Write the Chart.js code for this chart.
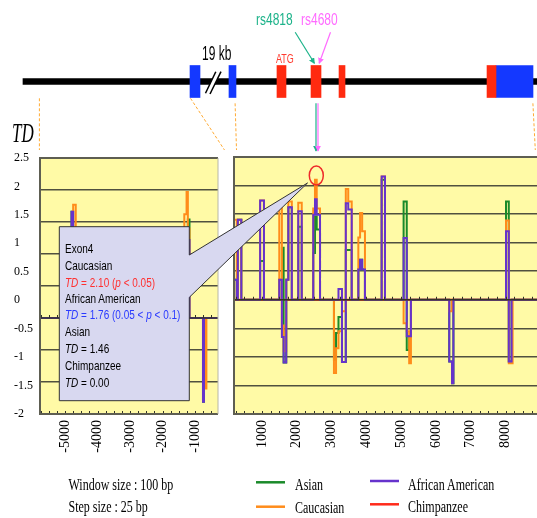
<!DOCTYPE html>
<html>
<head>
<meta charset="utf-8">
<script src="https://cdn.jsdelivr.net/npm/chart.js@4.4.1/dist/chart.umd.min.js"></script>
<style>
  body { margin: 0; background: #fff; }
  #wrap { position: relative; width: 537px; height: 518px; overflow: hidden; background: #fff; }
  canvas, svg, .lbl { position: absolute; }
  .lbl { white-space: nowrap; transform-origin: 0 0; line-height: 1; color: #000; }
  .sans { font-family: "Liberation Sans", Arial, sans-serif; }
  .serif { font-family: "Liberation Serif", "Times New Roman", serif; }
</style>
</head>
<body>
<div id="wrap">
  <canvas id="geneChart" width="537" height="110" style="left:0;top:0"></canvas>
  <canvas id="leftChart" width="222" height="310" style="left:0;top:150px"></canvas>
  <canvas id="rightChart" width="307" height="310" style="left:230px;top:150px"></canvas>

  <svg width="537" height="518" style="left:0;top:0" xmlns="http://www.w3.org/2000/svg">
    <defs>
      <marker id="ahT" viewBox="0 0 8 8" refX="7" refY="4" markerWidth="5" markerHeight="5" orient="auto"><path d="M0,0 L8,4 L0,8 z" fill="#1db38a"/></marker>
      <marker id="ahM" viewBox="0 0 8 8" refX="7" refY="4" markerWidth="5" markerHeight="5" orient="auto"><path d="M0,0 L8,4 L0,8 z" fill="#ff6bff"/></marker>
    </defs>
    <!-- break in the gene line -->
    <polygon points="205.5,93.3 215.8,71.7 221,71.7 210,94" fill="#fff"/>
    <line x1="205.5" y1="93.3" x2="215.8" y2="71.7" stroke="#000" stroke-width="1.5"/>
    <line x1="210" y1="94" x2="221" y2="71.7" stroke="#000" stroke-width="1.5"/>
    <!-- SNP arrows -->
    <line x1="295.2" y1="32.3" x2="314.4" y2="63.3" stroke="#1db38a" stroke-width="1.2" marker-end="url(#ahT)"/>
    <line x1="330.5" y1="32.3" x2="319.2" y2="63.3" stroke="#ff6bff" stroke-width="1.2" marker-end="url(#ahM)"/>
    <line x1="316" y1="103.3" x2="316" y2="151" stroke="#1db38a" stroke-width="1.2" marker-end="url(#ahT)"/>
    <line x1="318" y1="103.3" x2="318" y2="151" stroke="#ff6bff" stroke-width="1.2" marker-end="url(#ahM)"/>
    <!-- zoom guides -->
    <g stroke="#ffaa33" stroke-width="1" stroke-dasharray="3,2" fill="none">
      <line x1="39.4" y1="98.3" x2="39.4" y2="150"/>
      <line x1="190.5" y1="98.3" x2="224.5" y2="150"/>
      <line x1="235.1" y1="103.3" x2="236.5" y2="150"/>
      <line x1="532.9" y1="103.3" x2="535.3" y2="150"/>
    </g>
    <!-- callout -->
    <path d="M59.3,226.7 H189.3 V255 L307.5,183 L189.3,297.3 V400.7 H59.3 Z" fill="#d8d8f0" stroke="#333" stroke-width="1"/>
    <ellipse cx="316.3" cy="175.5" rx="7" ry="9.5" fill="none" stroke="#ee2a2a" stroke-width="1.5"/>
    <!-- legend swatches -->
    <line x1="256" y1="482.3" x2="285" y2="482.3" stroke="#1a8a2a" stroke-width="2.5"/>
    <line x1="256" y1="506.7" x2="285" y2="506.7" stroke="#ff8c1a" stroke-width="2.5"/>
    <line x1="370" y1="481" x2="399" y2="481" stroke="#6633cc" stroke-width="2.5"/>
    <line x1="370" y1="504.3" x2="399" y2="504.3" stroke="#ff2a1a" stroke-width="2.5"/>
  </svg>

  <div class="lbl sans" style="left:256px;top:11.2px;font-size:12px;color:#1db38a;transform:scaleY(1.36)">rs4818</div>
  <div class="lbl sans" style="left:301px;top:11.2px;font-size:12px;color:#ff6bff;transform:scaleY(1.36)">rs4680</div>
  <div class="lbl sans" style="left:202px;top:44.4px;font-size:12px;transform:scaleY(1.63)">19 kb</div>
  <div class="lbl sans" style="left:276px;top:53.3px;font-size:9px;color:#ff3b2f;transform:scaleY(1.4)">ATG</div>
  <div class="lbl serif" style="left:12px;top:119px;font-size:17px;font-style:italic;transform:scaleY(1.66)">TD</div>

  <div class="lbl sans" style="left:65px;top:241.1px;font-size:10px;line-height:12.85px;transform:scaleY(1.3)">
    Exon4<br>
    Caucasian<br>
    <span style="color:#ff3030"><i>TD</i> = 2.10 (<i>p</i> &lt; 0.05)</span><br>
    African American<br>
    <span style="color:#2a3aff"><i>TD</i> = 1.76 (0.05 &lt; <i>p</i> &lt; 0.1)</span><br>
    Asian<br>
    <i>TD</i> = 1.46<br>
    Chimpanzee<br>
    <i>TD</i> = 0.00
  </div>

  <div class="lbl serif" style="left:68.5px;top:475.4px;font-size:12px;transform:scaleY(1.45)">Window size : 100 bp</div>
  <div class="lbl serif" style="left:68.5px;top:497.1px;font-size:12px;transform:scaleY(1.45)">Step size : 25 bp</div>
  <div class="lbl serif" style="left:295px;top:475.4px;font-size:12px;transform:scaleY(1.45)">Asian</div>
  <div class="lbl serif" style="left:295px;top:498.4px;font-size:12px;transform:scaleY(1.45)">Caucasian</div>
  <div class="lbl serif" style="left:408px;top:475.4px;font-size:12px;transform:scaleY(1.45)">African American</div>
  <div class="lbl serif" style="left:408px;top:497.1px;font-size:12px;transform:scaleY(1.45)">Chimpanzee</div>
</div>

<script>
// gene map (map position, bp; the 5' part left of the break is compressed)
const mapMin = -6518;
const mapMax = 8899;
const backbone = [-5858, 8899];
const exonStart = [-1063, 56, 1434, 2411, 3215, 7464, 7722];
const exonEnd = [-776, 257, 1693, 2698, 3387, 7722, 8784];
const exonKind = ["utr", "utr", "cds", "cds", "cds", "cds", "utr"];

// axis labels
const leftTickLabels = [-5000, -4000, -3000, -2000, -1000];
const rightTickLabels = [1000, 2000, 3000, 4000, 5000, 6000, 7000, 8000];
const minorStep = 250;

// upstream region (left panel), window start positions and TD
const leftPos = [-5770, -4800, -4750, -4670, -1330, -1260, -1220, -1170, -755, -725, -680, -650, -293];
const leftAsian = [0, 1.66, 0.60, 0, 1.20, 1.20, 1.54, 0, -1.31, 0, 0, 0, 0];
const leftCauc = [0, 0.60, 1.77, 0, 1.62, 1.97, 1.40, 0, 0, 0, -1.10, 0, 0];
const leftAfam = [0, 1.66, 0.60, 0, 1.20, 1.20, 1.22, 0, -1.31, 0, 0, 0, 0];
const leftChimp = [0, 0, 0, 0, 0, 0, 0, 0, 0, 0, 0, 0, 0];

// gene region (right panel)
const rightPos = [200, 280, 310, 410, 950, 1060, 1500, 1575, 1625, 1700, 1760, 1860, 2045, 2145,
  2475, 2525, 2575, 2670, 3070, 3130, 3200, 3300, 3410, 3480, 3580, 3770, 3820, 3880, 3960,
  4440, 4535, 5070, 5160, 5230, 5280, 6380, 6460, 6500, 8010, 8090, 8170, 8200, 8900];
const rightAsian = [0.35, 0, 1.40, 0, 0.68, 0, 0.35, 0.91, -1.10, 0.35, 1.62, 0, 1.28, 0,
  0.82, 1.46, 1.23, 0, -1.05, -0.58, -0.30, -1.09, 0.87, 0.87, 0, 0.53, 0.70, 0.53, 0,
  2.10, 0, 1.72, -0.88, -0.64, 0, -1.08, -1.46, 0, 1.72, -1.08, 0, 0, 0];
const rightCauc = [1.40, 0, 1.40, 0, 1.74, 0, 1.62, -0.45, -0.90, 0.35, 1.72, 0, 1.70, 0,
  1.60, 2.10, 1.60, 0, -1.28, -0.85, -0.55, -0.20, 1.94, 1.72, 0, 1.09, 1.52, 1.20, 0,
  2.16, 0, -0.41, -0.55, -1.11, 0, -0.20, 0, 0, 1.39, -1.11, -1.11, 0, 0];
const rightAfam = [0.35, 0, 1.40, 0, 1.74, 0, 0.35, -0.65, -1.10, 0.35, 1.62, 0, 1.55, 0,
  1.49, 1.76, 1.49, 0, 0, 0, 0.19, -1.09, 1.69, 1.58, 0, 0.53, 0.70, 0.53, 0,
  2.16, 0, 1.08, -0.64, -0.64, 0, -1.08, -1.46, 0, 1.20, -1.08, 0, 0, 0];
const rightChimp = rightPos.map(() => 0);

const COLORS = { asian: "#1a8a2a", cauc: "#ff8c1a", afam: "#6633cc", chimp: "#ff2a1a" };
const EXON_COLORS = { utr: "#1438ff", cds: "#ff2a10" };
const PANEL_BG = "#fffaa6";
const GRID = "#50503f";
const serif = "'Liberation Serif', 'Times New Roman', serif";

const panelPlugin = {
  id: "panel",
  beforeDraw(chart) {
    const { ctx, chartArea: a } = chart;
    ctx.save();
    ctx.fillStyle = PANEL_BG;
    ctx.fillRect(a.left, a.top, a.right - a.left, a.bottom - a.top);
    ctx.restore();
  },
  afterDatasetsDraw(chart, args, opts) {
    const { ctx, chartArea: a, scales } = chart;
    const y0 = scales.y.getPixelForValue(0);
    ctx.save();
    ctx.strokeStyle = "#333328";
    ctx.lineWidth = 1.6;
    ctx.beginPath();
    ctx.moveTo(a.left, y0);
    ctx.lineTo(a.right, y0);
    ctx.stroke();

    ctx.lineWidth = 1;
    ctx.beginPath();
    scales.x.ticks.forEach(t => {
      const px = Math.round(scales.x.getPixelForValue(t.value)) + 0.5;
      ctx.moveTo(px, y0);
      ctx.lineTo(px, y0 - 3);
      ctx.moveTo(px, a.bottom);
      ctx.lineTo(px, a.bottom - 3);
    });
    ctx.stroke();

    ctx.lineWidth = 2;
    ctx.strokeStyle = "#5e5e52";
    ctx.beginPath();
    ctx.moveTo(a.right, a.top);
    ctx.lineTo(a.left, a.top);
    ctx.lineTo(a.left, a.bottom);
    ctx.lineTo(a.right, a.bottom);
    ctx.stroke();
    if (opts.rightEdge) {
      ctx.strokeStyle = opts.rightEdge;
      ctx.lineWidth = 1;
      ctx.beginPath();
      ctx.moveTo(a.right, a.top);
      ctx.lineTo(a.right, a.bottom);
      ctx.stroke();
    }
    ctx.restore();
  }
};

function points(pos, vals) {
  return pos.map((x, i) => ({ x: x, y: vals[i] }));
}

function tdDatasets(pos, afam, cauc, asian, chimp) {
  // first dataset is drawn on top
  return [
    { label: "African American", data: points(pos, afam), borderColor: COLORS.afam },
    { label: "Caucasian", data: points(pos, cauc), borderColor: COLORS.cauc },
    { label: "Asian", data: points(pos, asian), borderColor: COLORS.asian },
    { label: "Chimpanzee", data: points(pos, chimp), borderColor: COLORS.chimp }
  ].map(d => Object.assign(d, { yAxisID: "y", borderWidth: 2, pointRadius: 0, stepped: true, fill: false }));
}

function xAxis(min, max, labels) {
  return {
    type: "linear",
    min: min,
    max: max,
    grid: { display: false, tickLength: 0 },
    border: { display: false },
    afterBuildTicks: s => {
      const ticks = [];
      for (let v = Math.ceil(min / minorStep) * minorStep; v <= max; v += minorStep) {
        ticks.push({ value: v });
      }
      s.ticks = ticks;
    },
    afterFit: s => { s.height = 46; s.paddingLeft = 0; s.paddingRight = 0; },
    ticks: {
      autoSkip: false,
      minRotation: 90,
      maxRotation: 90,
      padding: 6,
      color: "#000",
      font: { family: serif, size: 14 },
      callback: v => (labels.includes(v) ? String(v) : "")
    }
  };
}

function gridAxis(min, max) {
  return {
    position: "left",
    min: min,
    max: max,
    grid: { color: GRID, lineWidth: 1.6, drawTicks: false },
    border: { display: false },
    ticks: { display: false, stepSize: 0.5 },
    afterFit: s => { s.width = 0; s.paddingTop = 0; s.paddingBottom = 0; }
  };
}

new Chart(document.getElementById("geneChart"), {
  type: "bar",
  data: {
    labels: ["COMT"],
    datasets: [{ data: [backbone], backgroundColor: "#000", barThickness: 6, grouped: false, order: 2 }]
      .concat(exonStart.map((s, i) => ({
        data: [[s, exonEnd[i]]],
        backgroundColor: EXON_COLORS[exonKind[i]],
        barThickness: 32,
        grouped: false,
        order: 1
      })))
  },
  options: {
    indexAxis: "y",
    responsive: false,
    animation: false,
    layout: { padding: { top: 54, bottom: 1, left: 0, right: 0 } },
    plugins: { legend: { display: false }, tooltip: { enabled: false } },
    scales: {
      x: { type: "linear", min: mapMin, max: mapMax, display: false },
      y: { display: false }
    }
  }
});

new Chart(document.getElementById("leftChart"), {
  type: "line",
  data: { datasets: tdDatasets(leftPos, leftAfam, leftCauc, leftAsian, leftChimp) },
  options: {
    responsive: false,
    animation: false,
    layout: { padding: { left: 14, top: 8, right: 4, bottom: 0 } },
    plugins: { legend: { display: false }, tooltip: { enabled: false }, panel: { rightEdge: "#b8b8a8" } },
    scales: {
      x: xAxis(-5770, -293, leftTickLabels),
      y: gridAxis(-1.5, 2.5),
      yTicks: {
        position: "left",
        min: -2,
        max: 2.5,
        grid: { display: false },
        border: { display: false },
        afterFit: s => { s.width = 26; s.paddingTop = 0; s.paddingBottom = 0; },
        ticks: {
          stepSize: 0.5,
          crossAlign: "far",
          padding: 0,
          color: "#000",
          font: { family: serif, size: 12 },
          callback: v => String(v)
        }
      }
    }
  },
  plugins: [panelPlugin]
});

new Chart(document.getElementById("rightChart"), {
  type: "line",
  data: { datasets: tdDatasets(rightPos, rightAfam, rightCauc, rightAsian, rightChimp) },
  options: {
    responsive: false,
    animation: false,
    layout: { padding: { left: 4, top: 7, right: 0, bottom: 0 } },
    plugins: { legend: { display: false }, tooltip: { enabled: false }, panel: {} },
    scales: {
      x: xAxis(200, 8900, rightTickLabels),
      y: gridAxis(-2, 2.5)
    }
  },
  plugins: [panelPlugin]
});
</script>
</body>
</html>
